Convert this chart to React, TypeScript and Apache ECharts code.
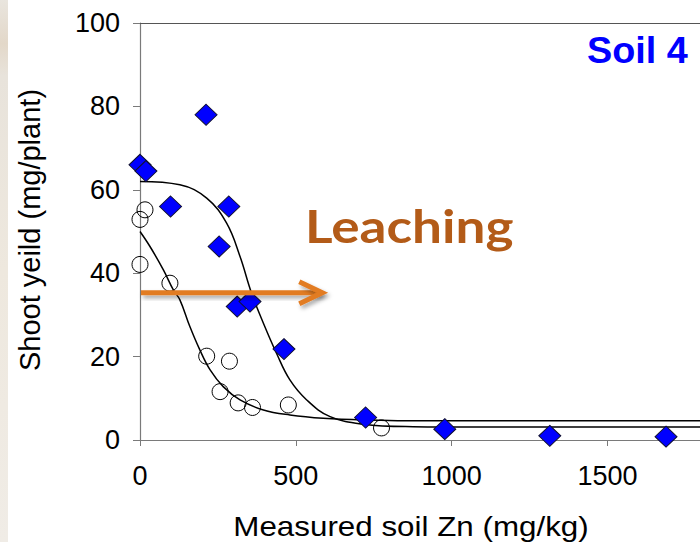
import React, { useEffect, useRef } from "react";
import * as echarts from "echarts";

// Diamonds (blue) — measured soil Zn vs shoot yield
const diamondX = [0, 19, 98, 212, 285, 254, 312, 353, 462, 724, 978, 1315, 1688];
const diamondY = [66, 64.5, 56, 78, 56, 46.4, 32, 33.2, 21.8, 5.4, 2.6, 1.0, 0.8];

// Open circles
const circleX = [0, 16, 0, 96, 214, 287, 257, 315, 361, 476, 775];
const circleY = [52.9, 55.2, 42.1, 37.6, 20.1, 18.9, 11.6, 8.9, 7.8, 8.4, 2.9];

// Fitted curve through diamonds
const fitDX = [0, 128, 214, 278, 321, 358, 396, 438, 481, 535, 610, 716, 877, 1091, 1797];
const fitDY = [62, 61.2, 58, 52, 44, 35.2, 28, 20.8, 14.4, 9.6, 5.6, 3.8, 3.2, 3.1, 3.1];

// Fitted curve through circles
const fitCX = [0, 32, 75, 107, 128, 160, 192, 225, 267, 321, 396, 481, 588, 716, 930, 1797];
const fitCY = [50, 46.4, 40.8, 36, 33.6, 27.2, 21.6, 16.8, 12.8, 9.6, 7.2, 6.0, 5.2, 4.8, 4.6, 4.6];

const xTicks = [0, 500, 1000, 1500];
const yTicks = [0, 20, 40, 60, 80, 100];

const arrowY = 35.3;
const arrowX0 = 0;
const arrowX1 = 585;

const FONT = "'Liberation Sans', Arial, sans-serif";

export default function App() {
  const ref = useRef<HTMLDivElement>(null);

  useEffect(() => {
    document.body.style.margin = "0";
    const chart = echarts.init(ref.current!, null, { renderer: "svg" });
    const pairs = (xs: number[], ys: number[]) => xs.map((x, i) => [x, ys[i]]);

    chart.setOption({
      animation: false,
      backgroundColor: "#ffffff",
      grid: { left: 140, top: 23, right: 0, bottom: 102, containLabel: false },
      xAxis: [
        {
          type: "value",
          min: 0,
          max: 1797,
          interval: 500,
          axisLine: { show: true, lineStyle: { color: "#7a7a7a", width: 1.2 } },
          axisTick: { show: true, inside: false, length: 6, lineStyle: { color: "#7a7a7a" } },
          axisLabel: {
            show: true,
            margin: 22,
            fontSize: 27,
            fontFamily: FONT,
            color: "#000",
            showMaxLabel: false,
            formatter: (v: number) => (xTicks.includes(v) ? String(v) : ""),
          },
          splitLine: { show: false },
        },
        {
          type: "value",
          position: "top",
          min: 0,
          max: 1797,
          axisLine: { show: true, onZero: false, lineStyle: { color: "#555", width: 1.2 } },
          axisTick: { show: false },
          axisLabel: { show: false },
          splitLine: { show: false },
        },
      ],
      yAxis: {
        type: "value",
        min: 0,
        max: 100,
        interval: 20,
        axisLine: { show: true, lineStyle: { color: "#7a7a7a", width: 1.2 } },
        axisTick: { show: true, inside: false, length: 7, lineStyle: { color: "#7a7a7a" } },
        axisLabel: {
          margin: 20,
          fontSize: 27,
          fontFamily: FONT,
          color: "#000",
          formatter: (v: number) => (yTicks.includes(v) ? String(v) : ""),
        },
        splitLine: { show: false },
      },
      series: [
        {
          type: "line",
          data: pairs(fitDX, fitDY),
          smooth: 0.4,
          symbol: "none",
          lineStyle: { color: "#000", width: 1.5 },
          z: 2,
        },
        {
          type: "line",
          data: pairs(fitCX, fitCY),
          smooth: 0.4,
          symbol: "none",
          lineStyle: { color: "#000", width: 1.5 },
          z: 2,
        },
        {
          type: "scatter",
          data: pairs(circleX, circleY),
          symbol: "circle",
          symbolSize: 16,
          itemStyle: { color: "rgba(255,255,255,0)", borderColor: "#000", borderWidth: 1, opacity: 1 },
          z: 3,
        },
        {
          type: "scatter",
          data: pairs(diamondX, diamondY),
          symbol: "diamond",
          symbolSize: [22, 21],
          itemStyle: { color: "#0000ff", borderColor: "#101030", borderWidth: 1, opacity: 1 },
          z: 4,
        },
      ],
    });

    const p0 = chart.convertToPixel({ gridIndex: 0 }, [arrowX0, arrowY]) as number[];
    const p1 = chart.convertToPixel({ gridIndex: 0 }, [arrowX1, arrowY]) as number[];
    const shadow = {
      shadowBlur: 4,
      shadowOffsetX: 2,
      shadowOffsetY: 3,
      shadowColor: "rgba(0,0,0,0.35)",
    };

    chart.setOption({
      graphic: [
        {
          type: "rect",
          shape: { x: 0, y: 0, width: 8, height: 542 },
          style: {
            fill: new echarts.graphic.LinearGradient(0, 0, 0, 1, [
              { offset: 0, color: "#e9e5de" },
              { offset: 0.08, color: "#e3d8c9" },
              { offset: 0.14, color: "#e8e3db" },
              { offset: 0.5, color: "#eee8de" },
              { offset: 1, color: "#f0ece6" },
            ]),
          },
          z: 0,
        },
        {
          type: "rect",
          shape: { x: p0[0] + 1, y: p0[1] - 2.5, width: p1[0] - p0[0] - 2, height: 5 },
          style: { fill: "#e27b22", ...shadow },
          z: 10,
        },
        {
          type: "polyline",
          shape: {
            points: [
              [p1[0] - 23, p1[1] - 11],
              [p1[0], p1[1]],
              [p1[0] - 23, p1[1] + 11],
            ],
          },
          style: { stroke: "#e27b22", lineWidth: 5, fill: "none", lineJoin: "miter", ...shadow },
          z: 10,
        },
        {
          type: "text",
          left: 305,
          top: 203,
          scaleX: 1.18,
          style: {
            text: "Leaching",
            font: "bold 45px Lato, 'DejaVu Sans', sans-serif",
            fill: "#b35b18",
          },
          z: 11,
        },
        {
          type: "text",
          x: 587,
          y: 51,
          scaleX: 1.05,
          style: {
            text: "Soil 4",
            font: `bold 36px ${FONT}`,
            fill: "#0000ff",
            verticalAlign: "middle",
            align: "left",
          },
          z: 11,
        },
        {
          type: "text",
          x: 411,
          y: 526,
          scaleX: 1.12,
          style: {
            text: "Measured soil Zn (mg/kg)",
            font: `28px ${FONT}`,
            fill: "#000",
            align: "center",
            verticalAlign: "middle",
          },
        },
        {
          type: "text",
          x: 30,
          y: 230,
          rotation: Math.PI / 2,
          style: {
            text: "Shoot yeild (mg/plant)",
            font: `29px ${FONT}`,
            fill: "#000",
            align: "center",
            verticalAlign: "middle",
          },
        },
      ],
    });

    return () => chart.dispose();
  }, []);

  return <div ref={ref} style={{ width: 700, height: 542 }} />;
}
